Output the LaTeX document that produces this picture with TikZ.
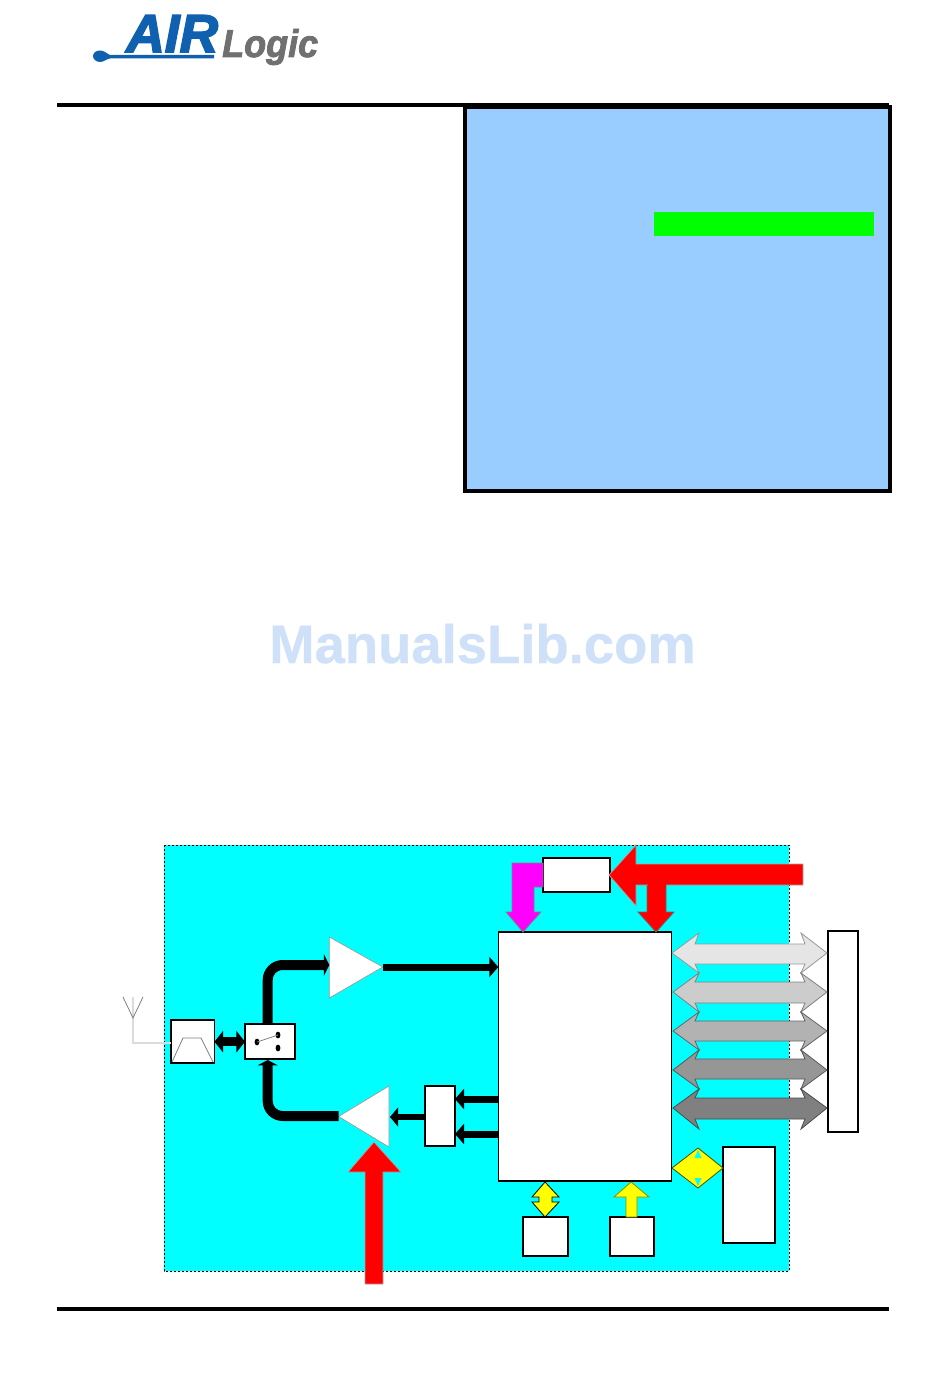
\documentclass[tikz,border=0pt]{standalone}
\usepackage{fontspec}
\setmainfont{Liberation Sans}
\newfontfamily\logofont[FakeBold=3]{Liberation Sans}
\newfontfamily\logofontb[FakeBold=2.2]{Liberation Sans}
\newfontfamily\markfont[FakeBold=.5]{Liberation Sans}
\usetikzlibrary{arrows.meta}
\definecolor{panelblue}{HTML}{99CCFF}
\definecolor{brightgreen}{HTML}{00FF00}
\definecolor{boardcyan}{HTML}{00FFFF}
\definecolor{markblue}{HTML}{CFE0F9}
\definecolor{logoblue}{HTML}{1060B0}
\definecolor{logogray}{HTML}{707070}
\definecolor{puremagenta}{HTML}{FF00FF}
\definecolor{purered}{HTML}{FF0000}
\definecolor{pureyellow}{HTML}{FFFF00}
\tikzset{
  blockbox/.style={draw=black,fill=white,line width=1pt,inner sep=0pt,outer sep=0pt},
  amp/.style={draw=gray!80,fill=white,line width=.5pt},
  rule/.style={fill=black,draw=none},
  blockarrow/.style={line width=.6pt,line join=miter},
  fatline/.style={draw=black,line width=7.5pt,rounded corners=11.25pt},
  sigline/.style={draw=black,line width=5.25pt,-{Triangle[length=6.75pt,width=15pt]}},
  thinline/.style={draw=gray,line width=.6pt},
  paleline/.style={draw=black!14,line width=.9pt}
}
\newcommand{\bx}[5]{%
  \pgfmathsetmacro{\bxw}{(#4-#2)*0.75}%
  \pgfmathsetmacro{\bxh}{(#5-#3)*0.75}%
  \node[blockbox,minimum width=\bxw pt,minimum height=\bxh pt] (#1) at ({(#2+#4)/2},{(#3+#5)/2}) {};}
\newcommand{\garrow}[8]{% fill, draw, cy, shaft top, shaft bottom, head top, head bottom, left tip
  \draw[blockarrow,fill=#1,draw=#2] (#8,#3)--(699,#6)--(695,#4)--(805,#4)--(801,#6)--(827,#3)--(801,#7)--(805,#5)--(695,#5)--(699,#7)--cycle;}
\begin{document}
\begin{tikzpicture}[x=0.75pt,y=-0.75pt]
\useasboundingbox (0,0) rectangle (950,1398);
\fill[white] (0,0) rectangle (950,1398);
% logo
\fill[logoblue] (100,50.5) .. controls (104,50.5) and (106,53) .. (110,55) -- (214,55) -- (214,58.5) -- (110,58.5) .. controls (106,59) and (104,62) .. (100,62) .. controls (96,62) and (93,59) .. (93,56) .. controls (93,53) and (96,50.5) .. (100,50.5) -- cycle;
\node[anchor=base west,inner sep=0pt,text=logoblue] (logoair) at (126,52) {\logofont\fontsize{40}{40}\selectfont\bfseries\itshape AIR};
\node[anchor=base west,inner sep=0pt,text=logogray,xscale=.93] (logologic) at (222,57) {\logofontb\fontsize{29}{29}\selectfont\bfseries\itshape Logic};
% rules
\fill[rule] (57,103) rectangle (889,107);
\fill[rule] (57,1307) rectangle (889,1311);
% panel
\draw[draw=black,fill=panelblue,line width=3pt] (465,107) rectangle (890,491);
\fill[brightgreen] (654,212) rectangle (874,236);
% watermark
\node[anchor=base west,inner sep=0pt,text=markblue,xscale=1.008] (mark) at (269,663) {\markfont\fontsize{40.5}{40.5}\selectfont\bfseries ManualsLib.com};
% board
\draw[fill=boardcyan,draw=black,line width=.6pt,dash pattern=on 1.5pt off 1.5pt] (164,845) rectangle (789,1271);
% antenna
\coordinate (antfoot) at (133,1018);
\coordinate (antleft) at (123,997);
\coordinate (antright) at (143,997);
\coordinate (anttop) at (133,997);
\coordinate (antcorner) at (133,1043);
% boxes
\bx{filter}{171}{1020}{214.5}{1063}
\bx{switch}{245}{1024}{295}{1059}
\bx{dac}{425}{1086}{455}{1146}
\bx{chip}{498.3}{932}{671.7}{1181}
\bx{lowleft}{523}{1217}{568}{1256}
\bx{lowright}{610}{1217}{654}{1256}
\bx{topbox}{543}{858}{610}{892}
\bx{membox}{723}{1147}{775}{1243}
\bx{connbox}{828}{931}{858}{1132}
\draw[paleline] (anttop) -- (antcorner) -- (filter.west |- antcorner);
\draw[thinline] (antleft) -- (antfoot) -- (antright);
% filter curve
\draw[thinline] (172,1062) -- (183,1038) -- (201,1038) -- (213,1062);
% switch symbol
\fill[black] (257,1042) ellipse (2.4 and 3.4);
\fill[black] (278,1035) ellipse (2.4 and 3.4);
\fill[black] (278,1048) ellipse (2.4 and 3.4);
\draw[thinline] (257,1042) -- (278,1035);
% amplifiers
\draw[amp] (329.3,937) -- (382.7,967) -- (329.3,998) -- cycle;
\draw[amp] (338.6,1116.5) -- (389,1086) -- (389,1147) -- cycle;
\coordinate (upamp) at (329.3,965);
\coordinate (upout) at (382.7,967);
\coordinate (lowamp) at (338.6,1116);
\coordinate (lowin) at (390,1117);
\coordinate (chipdac1) at (498,1099);
\coordinate (chipdac2) at (498,1134);
% black connectors
\draw[fatline,-{Triangle[length=4pt,width=16pt]}] (267.7,1024) -- (267.7,965) -- (upamp);
\draw[fatline,-{Triangle[length=4pt,width=15pt]}] (lowamp) -- (267.7,1116) -- (267.7,1060);
\draw[draw=black,line width=7pt,{Triangle[length=6.5pt,width=16pt]}-{Triangle[length=6.5pt,width=16pt]}] (filter.east |- 0,1041.7) -- (switch.west |- 0,1041.7);
\draw[sigline] (upout) -- (chip.west |- upout);
\draw[sigline] (chipdac1) -- (dac.east |- chipdac1);
\draw[sigline] (chipdac2) -- (dac.east |- chipdac2);
\draw[draw=black,line width=4.5pt,-{Triangle[length=6pt,width=14pt]}] (dac.west |- lowin) -- (lowin);
% block arrows
\draw[blockarrow,fill=purered,draw=gray!70] (365,1284)--(365,1172)--(348,1172)--(374,1142)--(401,1172)--(383,1172)--(383,1284)--cycle;
\draw[blockarrow,fill=puremagenta,draw=black!50] (543,863)--(512,863)--(512,912)--(506,912)--(523,932)--(541,912)--(534,912)--(534,887)--(543,887)--cycle;
\draw[blockarrow,fill=purered,draw=black!60] (647,885)--(647,912)--(638,912)--(656,932)--(674,912)--(666,912)--(666,885)--cycle;
\draw[blockarrow,fill=purered,draw=gray!70] (803,864)--(636,864)--(636,845)--(609,875)--(636,906)--(636,885)--(803,885)--cycle;
\fill[purered] (647.5,883) rectangle (665.5,887);
\draw[blockarrow,fill=pureyellow,draw=black] (545,1182)--(559,1197)--(552,1197)--(552,1202)--(559,1202)--(545,1217)--(532,1202)--(539,1202)--(539,1197)--(532,1197)--cycle;
\draw[blockarrow,fill=pureyellow,draw=black!45!pureyellow] (631,1182)--(649,1197)--(637,1197)--(637,1217)--(626,1217)--(626,1197)--(614,1197)--cycle;
\draw[blockarrow,fill=pureyellow,draw=black!70!pureyellow] (672,1168)--(698,1148)--(723,1168)--(698,1188)--cycle;
\fill[boardcyan] (698,1150)--(701.5,1158)--(694.5,1158)--cycle;
\fill[boardcyan] (698,1186)--(701.5,1178)--(694.5,1178)--cycle;
% bus arrows
\garrow{black!10}{black!40}{953}{944}{964}{933}{973}{672}
\garrow{black!20}{black!50}{992}{982}{1003}{973}{1012}{673}
\garrow{black!30}{black!60}{1031}{1021}{1041}{1012}{1050}{673}
\garrow{black!41}{black!65}{1070}{1059}{1079}{1050}{1089}{673}
\garrow{black!50}{black!70}{1108}{1098}{1119}{1089}{1129}{673}
\end{tikzpicture}
\end{document}
